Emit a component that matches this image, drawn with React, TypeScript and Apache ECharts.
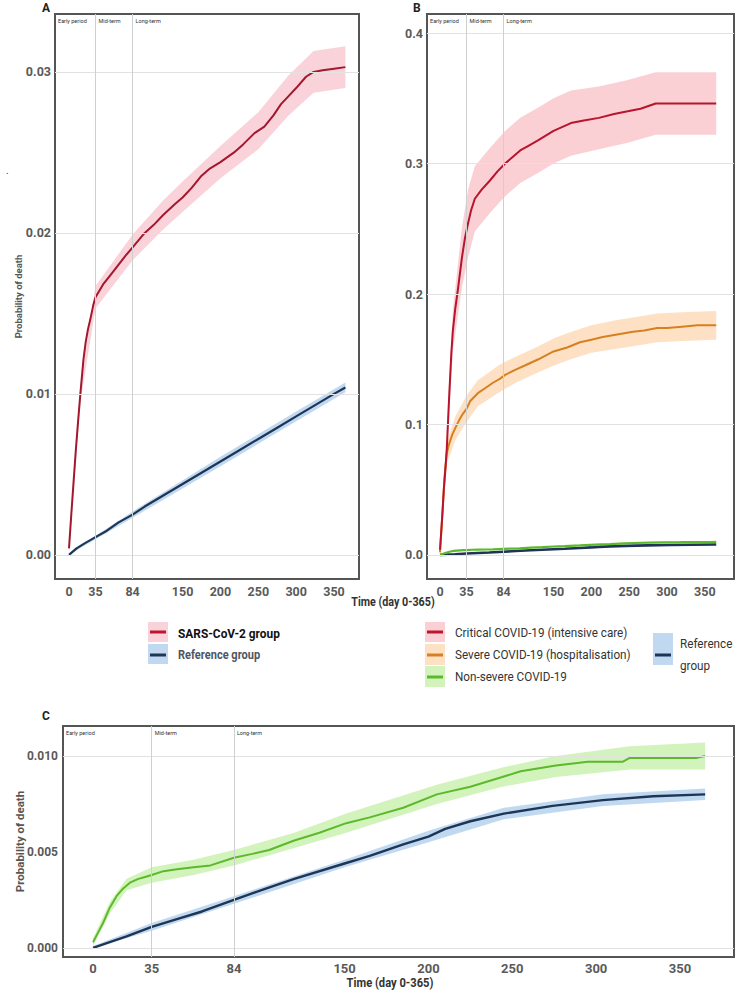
import React, { useEffect, useRef } from "react";
import * as echarts from "echarts";

const FONT = "Roboto, 'Noto Sans', sans-serif";

// ---------- Panel A ----------
const sarsDays = [0, 3, 6, 9, 12, 15, 19, 22, 25, 28, 32, 35, 45, 55, 65, 75, 84, 100, 112, 124, 140, 150, 162, 174, 186, 200, 218, 230, 245, 258, 270, 280, 290, 300, 313, 323, 335, 350, 365];
const sarsRisk = [0.0004, 0.0025, 0.0045, 0.0065, 0.0083, 0.01, 0.0121, 0.0132, 0.014, 0.0146, 0.0155, 0.016, 0.0168, 0.0174, 0.018, 0.0186, 0.0191, 0.02, 0.0205, 0.0211, 0.0218, 0.0222, 0.0228, 0.0235, 0.024, 0.0244, 0.025, 0.0255, 0.0262, 0.0266, 0.0273, 0.028, 0.0285, 0.029, 0.0297, 0.03, 0.0301, 0.0302, 0.0303];
const sarsBandDays = [0, 15, 35, 84, 124, 150, 200, 250, 290, 323, 365];
const sarsLow = [0.0002, 0.0095, 0.0153, 0.0183, 0.0202, 0.0213, 0.0234, 0.0252, 0.0273, 0.0287, 0.029];
const sarsHigh = [0.0006, 0.0105, 0.0167, 0.0199, 0.022, 0.0232, 0.0254, 0.0275, 0.0298, 0.0313, 0.0316];

const refADays = [0, 10, 20, 35, 50, 65, 84, 100, 125, 150, 175, 200, 225, 250, 275, 300, 325, 350, 365];
const refARisk = [0, 0.0004, 0.0007, 0.0011, 0.0015, 0.002, 0.0025, 0.003, 0.0037, 0.0044, 0.0051, 0.0058, 0.0065, 0.0072, 0.0079, 0.0086, 0.0093, 0.01, 0.0104];
const refABandDays = [0, 84, 200, 300, 365];
const refALow = [0, 0.0023, 0.0055, 0.0083, 0.0101];
const refAHigh = [0.0001, 0.0027, 0.0061, 0.0089, 0.0107];

// ---------- Panel B ----------
const critDays = [0, 3, 5, 7, 9, 12, 15, 17, 20, 24, 29, 33, 37, 41, 46, 55, 66, 76, 86, 96, 106, 118, 130, 150, 173, 190, 210, 230, 248, 265, 285, 300, 330, 365];
const critRisk = [0.004, 0.03, 0.05, 0.065, 0.082, 0.12, 0.155, 0.172, 0.188, 0.205, 0.228, 0.243, 0.254, 0.264, 0.273, 0.28, 0.287, 0.294, 0.3, 0.305, 0.31, 0.314, 0.318, 0.325, 0.331, 0.333, 0.335, 0.338, 0.34, 0.342, 0.346, 0.346, 0.346, 0.346];
const critBandDays = [0, 5, 9, 12, 17, 24, 29, 37, 46, 66, 86, 106, 130, 150, 173, 210, 248, 285, 300, 365];
const critLow = [0.002, 0.042, 0.072, 0.108, 0.156, 0.185, 0.205, 0.228, 0.248, 0.262, 0.275, 0.285, 0.293, 0.3, 0.306, 0.311, 0.316, 0.322, 0.322, 0.322];
const critHigh = [0.006, 0.058, 0.092, 0.132, 0.188, 0.225, 0.251, 0.28, 0.298, 0.312, 0.325, 0.335, 0.343, 0.35, 0.356, 0.359, 0.364, 0.37, 0.37, 0.37];

const sevDays = [0, 3, 6, 9, 12, 16, 20, 25, 30, 35, 40, 50, 60, 70, 79, 86, 100, 115, 130, 150, 168, 185, 200, 215, 234, 255, 270, 287, 300, 320, 340, 365];
const sevRisk = [0.002, 0.03, 0.06, 0.078, 0.085, 0.092, 0.097, 0.103, 0.108, 0.112, 0.118, 0.124, 0.128, 0.132, 0.135, 0.138, 0.142, 0.146, 0.15, 0.156, 0.159, 0.163, 0.165, 0.167, 0.169, 0.171, 0.172, 0.174, 0.174, 0.175, 0.176, 0.176];
const sevBandDays = [0, 9, 20, 35, 50, 79, 100, 130, 150, 168, 200, 234, 255, 287, 320, 365];
const sevLow = [0, 0.07, 0.088, 0.102, 0.114, 0.125, 0.132, 0.14, 0.145, 0.149, 0.155, 0.158, 0.16, 0.163, 0.164, 0.165];
const sevHigh = [0.004, 0.086, 0.106, 0.122, 0.134, 0.146, 0.152, 0.16, 0.166, 0.17, 0.176, 0.18, 0.182, 0.185, 0.186, 0.187];

// ---------- Panels B & C: non-severe and reference ----------
const nonSevDays = [0, 3, 6, 10, 14, 18, 22, 27, 31, 35, 42, 50, 60, 70, 84, 95, 105, 120, 135, 151, 165, 185, 205, 225, 244, 255, 276, 295, 316, 320, 340, 360, 365];
const nonSevRisk = [0.0003, 0.0008, 0.0013, 0.0021, 0.0027, 0.0031, 0.0034, 0.0036, 0.0037, 0.0038, 0.004, 0.0041, 0.0042, 0.0043, 0.0047, 0.0049, 0.0051, 0.0056, 0.006, 0.0065, 0.0068, 0.0073, 0.008, 0.0084, 0.0089, 0.0092, 0.0095, 0.0097, 0.0097, 0.0099, 0.0099, 0.0099, 0.01];
const nonSevBandDays = [0, 10, 20, 35, 60, 84, 120, 151, 205, 244, 276, 320, 365];
const nonSevLow = [0.0001, 0.0018, 0.003, 0.0034, 0.0038, 0.0043, 0.0052, 0.006, 0.0075, 0.0084, 0.0089, 0.0093, 0.0093];
const nonSevHigh = [0.0005, 0.0024, 0.0036, 0.0042, 0.0046, 0.0051, 0.006, 0.007, 0.0085, 0.0094, 0.01, 0.0105, 0.0107];

const refCDays = [0, 10, 20, 35, 50, 65, 84, 100, 120, 150, 165, 185, 200, 210, 225, 245, 274, 304, 334, 365];
const refCRisk = [0, 0.0003, 0.0006, 0.0011, 0.0015, 0.0019, 0.0025, 0.003, 0.0036, 0.0044, 0.0048, 0.0054, 0.0058, 0.0062, 0.0066, 0.007, 0.0074, 0.0077, 0.0079, 0.008];
const refCBandDays = [0, 35, 84, 150, 200, 245, 304, 365];
const refCLow = [0, 0.0009, 0.0023, 0.0042, 0.0055, 0.0067, 0.0074, 0.0077];
const refCHigh = [0.0001, 0.0013, 0.0027, 0.0046, 0.0061, 0.0073, 0.008, 0.0083];

// ---------- ticks ----------
const xTicks = [0, 35, 84, 150, 200, 250, 300, 350];
const yTicksA = [0, 0.01, 0.02, 0.03];
const yTicksB = [0, 0.1, 0.2, 0.3, 0.4];
const yTicksC = [0, 0.005, 0.01];
const periodLines = [35, 84];
const periodNames = ["Early period", "Mid-term", "Long-term"];

const C = {
  sars: "#A3172F", sarsBand: "rgba(240,150,165,0.42)",
  ref: "#1E3556", refBand: "rgba(140,185,230,0.55)",
  crit: "#B8142D", critBand: "rgba(245,150,160,0.45)",
  sev: "#D6801F", sevBand: "rgba(253,196,140,0.5)",
  non: "#5DB92C", nonBand: "rgba(165,232,120,0.5)",
};

const pairs = (d: number[], v: number[]) => d.map((x, i) => [x, v[i]]);

function band(idx: number, days: number[], low: number[], high: number[], color: string) {
  return {
    type: "custom",
    xAxisIndex: idx,
    yAxisIndex: idx,
    silent: true,
    z: 2,
    clip: true,
    data: [[days[0], low[0]]],
    renderItem: (_p: any, api: any) => {
      const pts: number[][] = [];
      for (let i = 0; i < days.length; i++) pts.push(api.coord([days[i], high[i]]));
      for (let i = days.length - 1; i >= 0; i--) pts.push(api.coord([days[i], low[i]]));
      return { type: "polygon", shape: { points: pts }, style: { fill: color } };
    },
  };
}

function line(idx: number, days: number[], vals: number[], color: string, width = 2) {
  return {
    type: "line",
    xAxisIndex: idx,
    yAxisIndex: idx,
    data: pairs(days, vals),
    showSymbol: false,
    symbol: "none",
    silent: true,
    z: 3,
    lineStyle: { color, width },
  };
}

function guides(idx: number, yTicks: number[]) {
  return {
    type: "line",
    xAxisIndex: idx,
    yAxisIndex: idx,
    data: [[0, 0]],
    symbol: "none",
    silent: true,
    z: 1,
    lineStyle: { opacity: 0 },
    markLine: {
      silent: true,
      symbol: ["none", "none"],
      label: { show: false },
      data: [
        ...yTicks.map((y) => ({ yAxis: y, lineStyle: { color: "#e2e2e2", width: 1, type: "solid" } })),
        ...periodLines.map((x) => ({ xAxis: x, lineStyle: { color: "#cfcfcf", width: 1, type: "solid" } })),
      ],
    },
  };
}

function xAxis(idx: number, min: number, max: number, fs: number, margin: number) {
  return {
    type: "value",
    gridIndex: idx,
    min,
    max,
    axisLine: { show: false },
    axisTick: { show: false },
    splitLine: { show: false },
    axisLabel: { customValues: xTicks, margin, fontSize: fs, fontWeight: "bold", color: "#5a5a5a", fontFamily: FONT },
  };
}

function yAxis(idx: number, min: number, max: number, ticks: number[], dec: number, fs: number, margin: number, name?: string, nameGap = 30, nameFs = 10) {
  return {
    type: "value",
    gridIndex: idx,
    min,
    max,
    axisLine: { show: false },
    axisTick: { show: false },
    splitLine: { show: false },
    axisLabel: {
      customValues: ticks,
      margin,
      fontSize: fs,
      fontWeight: "bold",
      color: "#5a5a5a",
      fontFamily: FONT,
      formatter: (v: number) => v.toFixed(dec),
    },
    name: name || "",
    nameLocation: "middle",
    nameGap,
    nameMoveOverlap: false,
    nameTextStyle: { fontSize: nameFs, fontWeight: "bold", color: "#555", fontFamily: FONT },
  };
}

function buildOption() {
  const gridBase = { show: true, borderColor: "#555", borderWidth: 2, backgroundColor: "transparent", containLabel: false, outerBoundsMode: "none" };
  return {
    animation: false,
    grid: [
      { ...gridBase, left: 55, top: 14, width: 304, height: 565 },
      { ...gridBase, left: 427, top: 14, width: 307, height: 565 },
      { ...gridBase, left: 63, top: 726, width: 671, height: 231 },
    ],
    xAxis: [xAxis(0, -18.5, 383, 12.5, 6), xAxis(1, -17.2, 388.5, 12.5, 6), xAxis(2, -17.9, 382.2, 13, 5)],
    yAxis: [
      yAxis(0, -0.0015, 0.0336, yTicksA, 2, 12.5, 4, "Probability of death", 32, 9.5),
      yAxis(1, -0.0184, 0.4146, yTicksB, 1, 12.5, 4),
      yAxis(2, -0.00047, 0.01156, yTicksC, 3, 12, 5, "Probability of death", 37, 11.5),
    ],
    series: [
      guides(0, yTicksA),
      guides(1, yTicksB),
      guides(2, yTicksC),
      band(0, sarsBandDays, sarsLow, sarsHigh, C.sarsBand),
      band(0, refABandDays, refALow, refAHigh, C.refBand),
      line(0, refADays, refARisk, C.ref, 2.2),
      line(0, sarsDays, sarsRisk, C.sars, 2),
      band(1, critBandDays, critLow, critHigh, C.critBand),
      band(1, sevBandDays, sevLow, sevHigh, C.sevBand),
      band(1, refCBandDays, refCLow, refCHigh, C.refBand),
      band(1, nonSevBandDays, nonSevLow, nonSevHigh, C.nonBand),
      line(1, refCDays, refCRisk, C.ref, 2.6),
      line(1, nonSevDays, nonSevRisk, C.non, 2.2),
      line(1, sevDays, sevRisk, C.sev, 2),
      line(1, critDays, critRisk, C.crit, 2),
      band(2, nonSevBandDays, nonSevLow, nonSevHigh, C.nonBand),
      band(2, refCBandDays, refCLow, refCHigh, C.refBand),
      line(2, refCDays, refCRisk, C.ref, 2.4),
      line(2, nonSevDays, nonSevRisk, C.non, 2),
    ],
  };
}

function txt(x: number, y: number, text: string, fs: number, color = "#333", weight: any = "normal", align = "left", sx = 1) {
  return { type: "text", x, y, scaleX: sx, silent: true, style: { text, fontSize: fs, fill: color, fontWeight: weight, fontFamily: FONT, align, verticalAlign: "middle" } };
}

function legendItem(x: number, y: number, w: number, h: number, lineY: number, band: string, color: string) {
  return [
    { type: "rect", silent: true, shape: { x, y, width: w, height: h }, style: { fill: band } },
    { type: "line", silent: true, shape: { x1: x + 2, y1: lineY, x2: x + w - 2, y2: lineY }, style: { stroke: color, lineWidth: 3 } },
  ];
}

function buildGraphic(chart: any) {
  const els: any[] = [];
  const tops = [
    { g: 0, yMax: 0.0336, xMin: -18.5 },
    { g: 1, yMax: 0.4146, xMin: -17.2 },
    { g: 2, yMax: 0.01156, xMin: -17.9 },
  ];
  tops.forEach((t) => {
    const xs = [t.xMin, ...periodLines];
    xs.forEach((xv, i) => {
      const p = chart.convertToPixel({ gridIndex: t.g }, [xv, t.yMax]);
      els.push(txt(p[0] + 3, p[1] + 7, periodNames[i], 5.5, "#333"));
    });
  });
  // panel letters
  els.push(txt(42, 8, "A", 12, "#222", "bold"));
  els.push(txt(413, 8, "B", 12, "#222", "bold"));
  els.push(txt(42, 716, "C", 12, "#222", "bold"));
  els.push(txt(6, 170, ".", 10, "#333"));
  // axis titles
  els.push(txt(393, 602, "Time (day 0-365)", 12.5, "#333", "bold", "center", 0.86));
  els.push(txt(390, 983, "Time (day 0-365)", 13, "#333", "bold", "center", 0.86));
  // legend A
  els.push(...legendItem(148, 622, 20, 20, 632, C.sarsBand, "#C0142B"));
  els.push(...legendItem(148, 644, 20, 20, 655, C.refBand, C.ref));
  els.push(txt(178, 633, "SARS-CoV-2 group", 13.5, "#111", "bold", "left", 0.88));
  els.push(txt(178, 655, "Reference group", 13, "#4d5666", "bold", "left", 0.85));
  // legend B
  els.push(...legendItem(425, 622, 20, 20, 632, C.critBand, "#C0142B"));
  els.push(...legendItem(425, 644, 20, 21, 655, C.sevBand, C.sev));
  els.push(...legendItem(425, 666, 20, 21, 677, C.nonBand, C.non));
  els.push(txt(455, 633, "Critical COVID-19 (intensive care)", 13, "#333", "normal", "left", 0.9));
  els.push(txt(455, 655, "Severe COVID-19 (hospitalisation)", 13, "#333", "normal", "left", 0.9));
  els.push(txt(455, 677, "Non-severe COVID-19", 13, "#333", "normal", "left", 0.9));
  els.push(...legendItem(653, 633, 20, 32, 655, C.refBand, C.ref));
  els.push(txt(680, 644, "Reference", 13, "#333", "normal", "left", 0.9));
  els.push(txt(680, 666, "group", 13, "#333", "normal", "left", 0.9));
  return els;
}

export default function App() {
  const ref = useRef<HTMLDivElement>(null);
  useEffect(() => {
    const chart = echarts.init(ref.current as HTMLDivElement, null, { renderer: "svg" });
    chart.setOption(buildOption() as any);
    chart.setOption({ graphic: buildGraphic(chart) } as any);
    return () => chart.dispose();
  }, []);
  return <div ref={ref} style={{ position: "absolute", left: 0, top: 0, width: 741, height: 993, background: "#fff" }} />;
}
